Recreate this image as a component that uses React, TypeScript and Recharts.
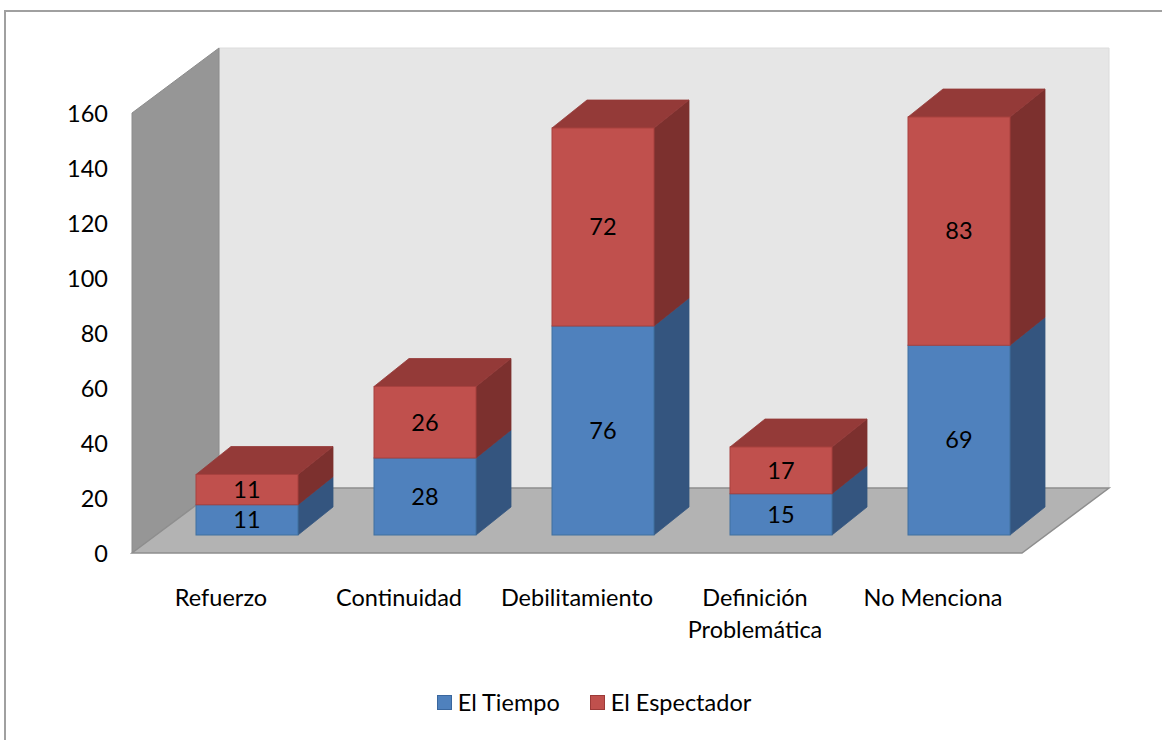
import React from "react";
import { Bar, BarChart, LabelList, Legend, XAxis, YAxis } from "recharts";

const categories = ["Refuerzo", "Continuidad", "Debilitamiento", "Definición Problemática", "No Menciona"];
const tiempo = [11, 28, 76, 15, 69];
const espectador = [11, 26, 72, 17, 83];
const yTicks = [0, 20, 40, 60, 80, 100, 120, 140, 160];

const data = categories.map((name, i) => ({ name, tiempo: tiempo[i], espectador: espectador[i] }));

const FONT = "Lato, 'Open Sans', sans-serif";
const FS = 23.5;
const W = 1162;
const H = 740;
// plot area of the bars (the middle depth of the 3D box)
const PL = 158;
const PT = 95;
const PW = 890;
const PH = 440;
// front plane offset from the bars, and full depth of the box
const FX = -26;
const FY = 18;
const DX = 87;
const DY = -65;
// bar depth
const BX = 35;
const BY = -28;

const Walls = () => {
  const fl = PL + FX;
  const fb = PT + PH + FY;
  const ft = PT + FY;
  const bl = fl + DX;
  const bb = fb + DY;
  const bt = ft + DY;
  const br = bl + PW;
  const pts = (a: number[][]) => a.map((p) => p.join(",")).join(" ");
  return (
    <svg width={W} height={H} style={{ position: "absolute", left: 0, top: 0 }}>
      <polygon points={pts([[bl, bt], [br, bt], [br, bb], [bl, bb]])} fill="#e6e6e6" stroke="#dcdcdc" />
      <polygon points={pts([[fl, ft], [bl, bt], [bl, bb], [fl, fb]])} fill="#969696" stroke="#8c8c8c" />
      <polygon
        points={pts([[fl, fb], [bl, bb], [br, bb], [fl + PW, fb]])}
        fill="#b3b3b3"
        stroke="#8e8e8e"
        strokeWidth={1.5}
      />
    </svg>
  );
};

const makeShape = (front: string, side: string, top: string, edge: string) => (props: any) => {
  const { x, y, width, height } = props;
  if (!height) return null;
  const r = x + width;
  const b = y + height;
  return (
    <g>
      <polygon
        points={`${r},${y} ${r + BX},${y + BY} ${r + BX},${b + BY} ${r},${b}`}
        fill={side}
        stroke={side}
        strokeWidth={0.8}
      />
      <polygon
        points={`${x},${y} ${x + BX},${y + BY} ${r + BX},${y + BY} ${r},${y}`}
        fill={top}
        stroke={top}
        strokeWidth={0.8}
      />
      <rect x={x} y={y} width={width} height={height} fill={front} stroke={edge} strokeWidth={1} />
    </g>
  );
};

const blueShape = makeShape("#4f81bd", "#34557f", "#3c6494", "#41709f");
const redShape = makeShape("#c0504d", "#7c302e", "#943a38", "#a8413f");

const YTick = (props: any) => {
  const { x, y, payload } = props;
  return (
    <text
      x={x - 50}
      y={y + FY}
      textAnchor="end"
      dominantBaseline="central"
      fontFamily={FONT}
      fontSize={FS}
      fill="#000"
    >
      {payload.value}
    </text>
  );
};

const XTick = (props: any) => {
  const { x, y, payload } = props;
  const label = String(payload.value);
  const lines = label.length > 16 ? label.split(" ") : [label];
  return (
    <text x={x + FX} y={y + 46} textAnchor="middle" fontFamily={FONT} fontSize={FS} fill="#000">
      {lines.map((line, i) => (
        <tspan key={i} x={x + FX} dy={i === 0 ? 17 : 32}>
          {line}
        </tspan>
      ))}
    </text>
  );
};

const LegendContent = () => (
  <div
    style={{
      display: "flex",
      justifyContent: "center",
      alignItems: "center",
      fontFamily: FONT,
      fontSize: FS,
      color: "#000",
    }}
  >
    {[
      { label: "El Tiempo", color: "#4f81bd", edge: "#3a679e" },
      { label: "El Espectador", color: "#c0504d", edge: "#9c3a38" },
    ].map((item, i) => (
      <div key={item.label} style={{ display: "flex", alignItems: "center", marginLeft: i ? 30 : 0 }}>
        <span
          style={{
            display: "inline-block",
            width: 13,
            height: 13,
            background: item.color,
            border: `1px solid ${item.edge}`,
            marginRight: 6,
          }}
        />
        <span>{item.label}</span>
      </div>
    ))}
  </div>
);

export default function App() {
  return (
    <div style={{ position: "absolute", left: 0, top: 0, width: W, height: H, overflow: "hidden", background: "#fff" }}>
      <div
        style={{
          position: "absolute",
          left: 4,
          top: 10,
          width: W + 40,
          height: H + 40,
          border: "2px solid #a0a0a0",
        }}
      />
      <Walls />
      <div style={{ position: "absolute", left: 0, top: 0 }}>
        <BarChart
          width={W}
          height={H}
          data={data}
          margin={{ top: PT, right: W - PL - PW, left: PL - 60, bottom: H - PT - PH - 90 }}
        >
          <XAxis dataKey="name" axisLine={false} tickLine={false} height={90} tick={<XTick />} interval={0} />
          <YAxis
            type="number"
            domain={[0, 160]}
            ticks={yTicks}
            width={60}
            axisLine={false}
            tickLine={false}
            tickSize={0}
            tickMargin={0}
            tick={<YTick />}
          />
          <Legend
            verticalAlign="middle"
            align="center"
            layout="horizontal"
            wrapperStyle={{ top: 688, left: 13, width: W }}
            content={<LegendContent />}
          />
          <Bar dataKey="tiempo" stackId="a" barSize={102} shape={blueShape} isAnimationActive={false}>
            <LabelList dataKey="tiempo" position="center" fill="#000" fontSize={FS} fontFamily={FONT} />
          </Bar>
          <Bar dataKey="espectador" stackId="a" barSize={102} shape={redShape} isAnimationActive={false}>
            <LabelList dataKey="espectador" position="center" fill="#000" fontSize={FS} fontFamily={FONT} />
          </Bar>
        </BarChart>
      </div>
    </div>
  );
}
